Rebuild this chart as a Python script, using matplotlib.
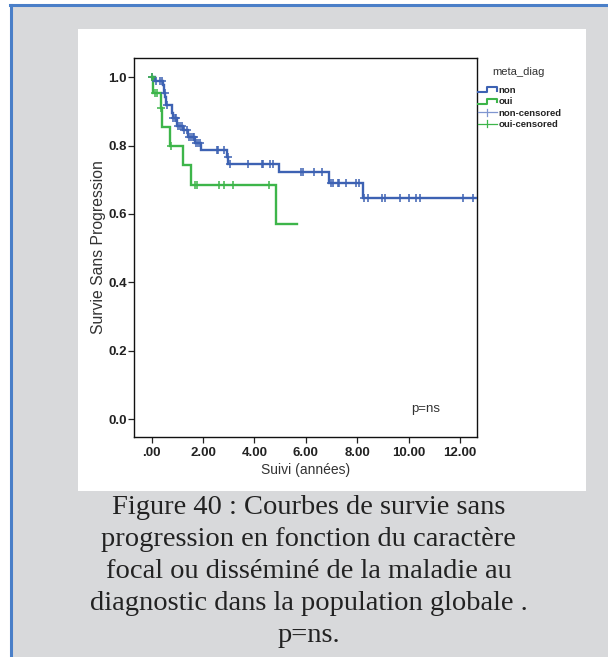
import numpy as np
import matplotlib
matplotlib.use("Agg")
import matplotlib.pyplot as plt
from matplotlib.lines import Line2D
from matplotlib.patches import Rectangle
from matplotlib.legend_handler import HandlerBase

# ---------------- data ----------------
non_times = [0.0, 0.13, 0.42, 0.46, 0.52, 0.56, 0.78, 0.82, 0.97, 1.20, 1.43, 1.68, 1.90, 2.92, 2.98, 4.97, 6.91, 8.21]
non_surv = [1.0, 0.988, 0.976, 0.953, 0.941, 0.918, 0.894, 0.882, 0.858, 0.845, 0.826, 0.807, 0.788, 0.768, 0.746, 0.722, 0.692, 0.648]
non_end = 12.65
non_censored = [0.02, 0.17, 0.32, 0.40, 0.50, 0.58, 0.84, 0.91, 0.95, 1.03, 1.10, 1.17, 1.27, 1.36,
                1.47, 1.53, 1.60, 1.66, 1.74, 1.81, 1.88, 2.53, 2.59, 2.83, 2.95, 3.03, 3.74, 4.30,
                4.35, 4.62, 4.73, 5.81, 5.88, 6.30, 6.61, 6.98, 7.07, 7.24, 7.30, 7.56, 7.95, 8.08,
                8.26, 8.43, 8.95, 9.08, 9.66, 10.01, 10.28, 10.44, 12.12, 12.51]

oui_times = [0.0, 0.06, 0.36, 0.40, 0.71, 1.20, 1.52, 4.84]
oui_surv = [1.0, 0.955, 0.909, 0.853, 0.800, 0.743, 0.685, 0.572]
oui_end = 5.67
oui_censored = [0.02, 0.13, 0.19, 0.38, 0.74, 1.68, 1.75, 2.63, 2.81, 3.15, 4.56]

x_ticks = [0, 2, 4, 6, 8, 10, 12]
x_ticklabels = [".00", "2.00", "4.00", "6.00", "8.00", "10.00", "12.00"]
y_ticks = [0.0, 0.2, 0.4, 0.6, 0.8, 1.0]
y_ticklabels = ["0.0", "0.2", "0.4", "0.6", "0.8", "1.0"]
legend_labels = ["non", "oui", "non-censored", "oui-censored"]

caption_lines = ["Figure 40 : Courbes de survie sans",
                 "progression en fonction du caractère",
                 "focal ou disséminé de la maladie au",
                 "diagnostic dans la population globale .",
                 "p=ns."]

BLUE = "#3d62b3"
GREEN = "#3db54a"

plt.rcParams['font.family'] = ['Liberation Sans', 'DejaVu Sans']

W, H = 608, 657
fig = plt.figure(figsize=(W / 100, H / 100), dpi=100)
fig.patch.set_facecolor("white")

def fx(px):
    return px / W

def fy(py):
    return 1 - py / H

# background gray page + blue border
fig.patches.append(Rectangle((fx(10), 0), 1 - fx(10), fy(5), transform=fig.transFigure,
                             facecolor="#d8d9db", edgecolor="none", zorder=0))
fig.lines.append(Line2D([fx(10.5), fx(10.5)], [0, fy(5)], transform=fig.transFigure,
                        color="#4a7fc8", lw=2.2, zorder=1))
fig.lines.append(Line2D([fx(10), 1], [fy(5), fy(5)], transform=fig.transFigure,
                        color="#4a7fc8", lw=2.2, zorder=1))
# white chart panel
fig.patches.append(Rectangle((fx(78), fy(491)), fx(586) - fx(78), fy(29) - fy(491),
                             transform=fig.transFigure, facecolor="white", edgecolor="none", zorder=1))

ax = fig.add_axes([fx(134), fy(437), fx(477) - fx(134), fy(58) - fy(437)])
ax.set_zorder(2)
ax.set_facecolor("white")


def km_plot(times, surv, end, cens, color):
    xs = list(times) + [end]
    ys = list(surv) + [surv[-1]]
    ax.step(xs, ys, where="post", color=color, lw=1.7, solid_joinstyle="miter", zorder=3)
    idx = np.searchsorted(np.array(times), np.array(cens), side="right") - 1
    cy = np.array(surv)[idx]
    ax.plot(cens, cy, linestyle="none", marker="+", markersize=6, markeredgewidth=1.1,
            color=color, zorder=4)


km_plot(non_times, non_surv, non_end, non_censored, BLUE)
km_plot(oui_times, oui_surv, oui_end, oui_censored, GREEN)

ax.set_xlim(-0.69, 12.66)
ax.set_ylim(-0.052, 1.056)
ax.set_xticks(x_ticks)
ax.set_xticklabels(x_ticklabels, fontweight="bold", fontsize=9.5, color="#222222")
ax.set_yticks(y_ticks)
ax.set_yticklabels(y_ticklabels, fontweight="bold", fontsize=9.5, color="#222222")
ax.tick_params(axis="both", direction="out", length=4.3, width=0.9, color="#222222")
ax.tick_params(axis="x", pad=3)
ax.tick_params(axis="y", pad=1)
for s in ax.spines.values():
    s.set_linewidth(1.0)
    s.set_color("#111111")

ax.set_xlabel("Suivi (années)", fontsize=10, color="#333333", labelpad=3)
ax.set_ylabel("Survie Sans Progression", fontsize=11.3, color="#333333", labelpad=1.5)

ax.text(10.67, 0.03, "p=ns", fontsize=9.5, color="#333333", ha="center", va="center")


# legend with step glyph handlers
class StepHandler(HandlerBase):
    def create_artists(self, legend, orig_handle, xdescent, ydescent, width, height, fontsize, trans):
        c = orig_handle.get_color()
        lo = -ydescent + 0.15 * height
        hi = -ydescent + 0.85 * height
        x0 = -xdescent
        xs = [x0, x0 + 0.45 * width, x0 + 0.45 * width, x0 + width, x0 + width]
        ys = [lo, lo, hi, hi, lo + 0.2 * height]
        ln = Line2D(xs, ys, color=c, lw=1.5, transform=trans)
        return [ln]


class CrossHandler(HandlerBase):
    def create_artists(self, legend, orig_handle, xdescent, ydescent, width, height, fontsize, trans):
        c = orig_handle.get_color()
        ymid = -ydescent + 0.5 * height
        x0 = -xdescent
        h = Line2D([x0, x0 + width], [ymid, ymid], color=c, lw=0.9, transform=trans)
        v = Line2D([x0 + 0.5 * width, x0 + 0.5 * width], [ymid - 0.5 * height, ymid + 0.5 * height],
                   color=c, lw=0.9, transform=trans)
        return [h, v]


h_non = Line2D([], [], color=BLUE)
h_oui = Line2D([], [], color=GREEN)
h_nonc = Line2D([], [], color="#7f96d0")
h_ouic = Line2D([], [], color=GREEN)

fig.text(fx(492), fy(72), "meta_diag", fontsize=8, color="#333333", ha="left", va="center")
leg = fig.legend([h_non, h_oui, h_nonc, h_ouic], legend_labels,
                 handler_map={h_non: StepHandler(), h_oui: StepHandler(),
                              h_nonc: CrossHandler(), h_ouic: CrossHandler()},
                 loc="upper left", bbox_to_anchor=(fx(478), fy(86)), bbox_transform=fig.transFigure,
                 frameon=False, borderpad=0, borderaxespad=0, handlelength=2.0, handleheight=0.8,
                 handletextpad=0.15, labelspacing=0.25,
                 prop={"weight": "bold", "size": 6.8})
for t in leg.get_texts():
    t.set_color("#222222")

# caption
for i, line in enumerate(caption_lines):
    fig.text(fx(308.5), fy(507 + 32 * i), line, fontsize=20.5, color="#222222",
             family=["Liberation Serif", "DejaVu Serif"], ha="center", va="center")

fig.savefig("out.png", dpi=100)
